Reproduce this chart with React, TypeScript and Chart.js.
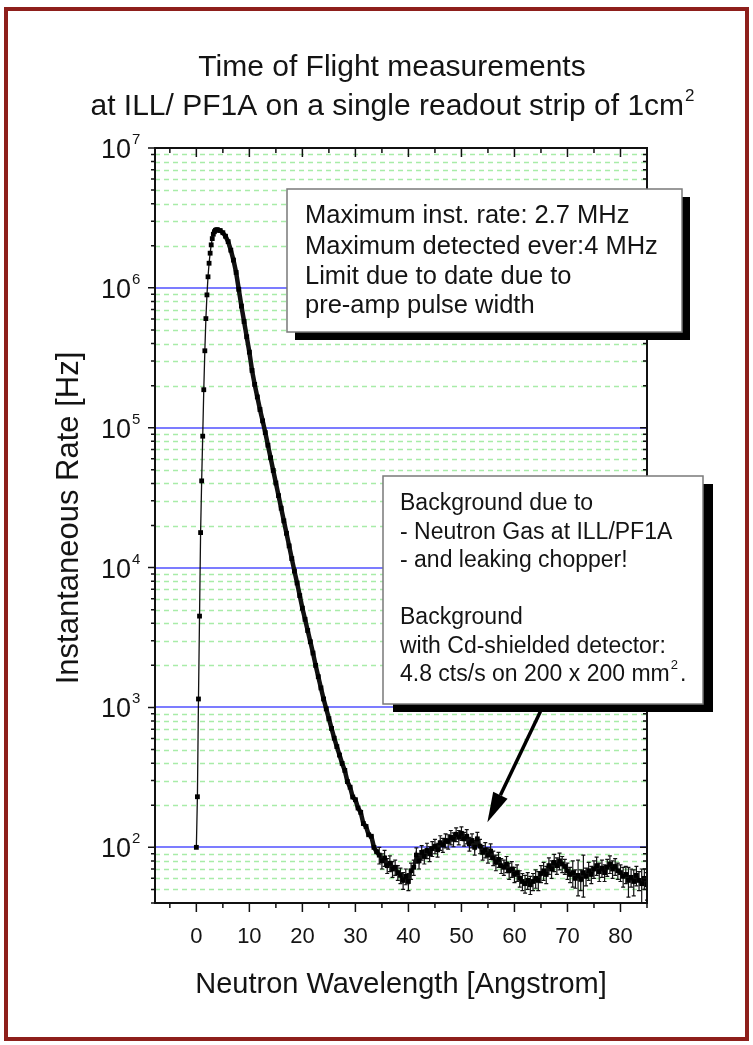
import { useEffect, useRef } from 'react';
import { Chart, registerables } from 'chart.js';

Chart.register(...registerables);

// ---------- data ----------
const riseWavelength = [0, 0.2, 0.4, 0.6, 0.8, 1.0, 1.2, 1.4, 1.6, 1.8, 2.0, 2.2, 2.4, 2.6, 2.8, 3.0, 3.2, 3.4, 3.6, 3.8];
const riseRate = [100, 230, 1150, 4500, 17800, 41700, 87000, 187000, 355000, 603000, 891000, 1200000, 1500000, 1770000, 2030000, 2250000, 2420000, 2520000, 2580000, 2600000];

const decayWavelength = [
  4.0, 4.5, 5.0, 5.5, 6.0, 6.5, 7.0, 7.5, 8.0, 8.5,
  9.0, 9.5, 10.0, 10.5, 11.0, 11.5, 12.0, 12.5, 13.0, 13.5,
  14.0, 14.5, 15.0, 15.5, 16.0, 16.5, 17.0, 17.5, 18.0, 18.5,
  19.0, 19.5, 20.0, 20.5, 21.0, 21.5, 22.0, 22.5, 23.0, 23.5,
  24.0, 24.5, 25.0, 25.5, 26.0, 26.5, 27.0, 27.5, 28.0, 28.5,
  29.0, 29.5, 30.0, 30.5, 31.0, 31.5, 32.0, 32.5, 33.0, 33.5,
  34.0,
];
const decayRate = [
  2600000, 2570000, 2480000, 2340000, 2140000, 1860000, 1580000, 1290000, 977000, 741000,
  575000, 447000, 347000, 257000, 204000, 166000, 135000, 112000, 92300, 75000,
  61000, 49500, 40300, 32700, 26600, 21600, 17600, 14300, 11600, 9440,
  7760, 6310, 5130, 4270, 3550, 2950, 2450, 2000, 1660, 1380,
  1150, 977, 832, 708, 603, 525, 457, 398, 355, 295,
  269, 229, 219, 191, 178, 148, 141, 123, 120, 100,
  93,
];

const tailWavelength = [
  34.5, 35.0, 35.5, 36.0, 36.5, 37.0, 37.5, 38.0, 38.5, 39.0,
  39.5, 40.0, 40.5, 41.0, 41.5, 42.0, 42.5, 43.0, 43.5, 44.0,
  44.5, 45.0, 45.5, 46.0, 46.5, 47.0, 47.5, 48.0, 48.5, 49.0,
  49.5, 50.0, 50.5, 51.0, 51.5, 52.0, 52.5, 53.0, 53.5, 54.0,
  54.5, 55.0, 55.5, 56.0, 56.5, 57.0, 57.5, 58.0, 58.5, 59.0,
  59.5, 60.0, 60.5, 61.0, 61.5, 62.0, 62.5, 63.0, 63.5, 64.0,
  64.5, 65.0, 65.5, 66.0, 66.5, 67.0, 67.5, 68.0, 68.5, 69.0,
  69.5, 70.0, 70.5, 71.0, 71.5, 72.0, 72.5, 73.0, 73.5, 74.0,
  74.5, 75.0, 75.5, 76.0, 76.5, 77.0, 77.5, 78.0, 78.5, 79.0,
  79.5, 80.0, 80.5, 81.0, 81.5, 82.0, 82.5, 83.0, 83.5, 84.0,
  84.5, 85.0,
];
const tailRate = [
  88, 80, 84, 74, 77, 70, 72, 66, 63, 58,
  62, 57, 68, 72, 88, 80, 92, 86, 95, 90,
  98, 102, 96, 108, 104, 112, 110, 118, 114, 124,
  118, 126, 115, 120, 106, 112, 100, 115, 102, 92,
  96, 88, 94, 84, 78, 82, 74, 72, 76, 68,
  70, 64, 66, 60, 57, 55, 58, 54, 57, 60,
  58, 65, 68, 64, 74, 70, 78, 74, 80, 76,
  73, 68, 64, 66, 60, 63, 59, 66, 62, 68,
  64, 70, 74, 67, 71, 66, 72, 76, 70, 73,
  68, 66, 62, 64, 58, 61, 57, 63, 58, 55,
  60, 54,
];
const tailError = [
  12, 10, 11, 9, 10, 9, 9, 8, 8, 8,
  8, 8, 9, 9, 11, 10, 11, 10, 12, 11,
  12, 12, 11, 13, 12, 13, 13, 14, 13, 14,
  14, 14, 13, 14, 12, 13, 12, 13, 12, 11,
  12, 11, 12, 10, 10, 10, 9, 9, 10, 9,
  9, 8, 9, 8, 8, 8, 8, 8, 8, 9,
  9, 9, 10, 9, 10, 10, 11, 10, 11, 10,
  9, 9, 8, 14, 9, 18, 10, 22, 9, 10,
  9, 10, 11, 10, 10, 9, 10, 11, 10, 10,
  9, 9, 10, 9, 14, 9, 12, 10, 9, 15,
  10, 12,
];

const xTickValues = [0, 10, 20, 30, 40, 50, 60, 70, 80];
const xMinorTickValues = [-5, 5, 15, 25, 35, 45, 55, 65, 75, 85];
const yTickValues = [100, 1000, 10000, 100000, 1000000, 10000000];
const yTickExponents = ['2', '3', '4', '5', '6', '7'];

const titleLines = ['Time of Flight measurements', 'at ILL/ PF1A on a single readout strip of 1cm'];
const xTitle = 'Neutron Wavelength [Angstrom]';
const yTitle = 'Instantaneous Rate [Hz]';
const box1Lines = ['Maximum inst. rate: 2.7 MHz', 'Maximum detected ever:4 MHz', 'Limit due to date due to', 'pre-amp pulse width'];
const box2Lines = ['Background due to', '- Neutron Gas at ILL/PF1A', '- and leaking chopper!', '', 'Background', 'with Cd-shielded detector:', '4.8 cts/s on 200 x 200 mm'];
const arrowFrom = { x: 64.9, y: 935 };
const arrowTo = { x: 54.9, y: 151 };

const FONT = '"Liberation Sans", Arial, Helvetica, sans-serif';
const TEXT = '#141414';

function drawBox(ctx: CanvasRenderingContext2D, x: number, y: number, w: number, h: number, dx: number, dy: number) {
  ctx.fillStyle = '#000';
  ctx.fillRect(x + dx, y + dy, w, h);
  ctx.fillStyle = '#fff';
  ctx.fillRect(x, y, w, h);
  ctx.strokeStyle = '#7a7a7a';
  ctx.lineWidth = 1.5;
  ctx.strokeRect(x, y, w, h);
}

const decor = {
  id: 'decor',
  beforeDraw(chart: any) {
    const { ctx, width, height } = chart;
    ctx.save();
    ctx.fillStyle = '#fff';
    ctx.fillRect(0, 0, width, height);
    ctx.strokeStyle = '#8e1f1b';
    ctx.lineWidth = 4;
    ctx.strokeRect(6, 9, 741, 1030);
    ctx.restore();
  },
  beforeDatasetsDraw(chart: any) {
    const { ctx, chartArea: a, scales } = chart;
    const y = scales.y;
    const x = scales.x;
    ctx.save();
    ctx.beginPath();
    ctx.rect(a.left, a.top, a.right - a.left, a.bottom - a.top);
    ctx.clip();
    ctx.strokeStyle = '#a8eca8';
    ctx.lineWidth = 1.5;
    ctx.setLineDash([5, 4]);
    for (let e = 1; e < 7; e++) {
      for (let m = 2; m < 10; m++) {
        const v = m * Math.pow(10, e);
        if (v <= y.min || v >= y.max) continue;
        const py = Math.round(y.getPixelForValue(v)) + 0.5;
        ctx.beginPath();
        ctx.moveTo(a.left, py);
        ctx.lineTo(a.right, py);
        ctx.stroke();
      }
    }
    ctx.setLineDash([]);
    ctx.strokeStyle = '#7c7cff';
    ctx.lineWidth = 2;
    for (const v of yTickValues) {
      if (v >= y.max) continue;
      const py = Math.round(y.getPixelForValue(v));
      ctx.beginPath();
      ctx.moveTo(a.left, py);
      ctx.lineTo(a.right, py);
      ctx.stroke();
    }
    ctx.strokeStyle = '#111';
    ctx.lineWidth = 1.2;
    for (let i = 0; i < tailWavelength.length; i++) {
      const err = tailError[i] ?? 0;
      const px = x.getPixelForValue(tailWavelength[i]);
      const y1 = y.getPixelForValue(tailRate[i] + err);
      const y2 = y.getPixelForValue(Math.max(tailRate[i] - err, 1));
      ctx.beginPath();
      ctx.moveTo(px, y1);
      ctx.lineTo(px, y2);
      ctx.moveTo(px - 2, y1);
      ctx.lineTo(px + 2, y1);
      ctx.moveTo(px - 2, y2);
      ctx.lineTo(px + 2, y2);
      ctx.stroke();
    }
    ctx.restore();
  },
  afterDatasetsDraw(chart: any) {
    const { ctx, chartArea: a, scales } = chart;
    const y = scales.y;
    const x = scales.x;
    ctx.save();
    ctx.strokeStyle = '#111';
    ctx.lineWidth = 2;
    ctx.strokeRect(a.left, a.top, a.right - a.left, a.bottom - a.top);
    ctx.lineWidth = 1.5;
    for (let e = 1; e <= 7; e++) {
      for (let m = 1; m < 10; m++) {
        const v = m * Math.pow(10, e);
        if (v < y.min || v > y.max) continue;
        const py = y.getPixelForValue(v);
        const len = m === 1 ? 7 : 4;
        ctx.beginPath();
        ctx.moveTo(a.left - len, py);
        ctx.lineTo(a.left, py);
        ctx.moveTo(a.right, py);
        ctx.lineTo(a.right - len, py);
        ctx.stroke();
      }
    }
    for (const v of xTickValues) {
      const px = x.getPixelForValue(v);
      ctx.beginPath();
      ctx.moveTo(px, a.bottom);
      ctx.lineTo(px, a.bottom + 9);
      ctx.moveTo(px, a.top);
      ctx.lineTo(px, a.top + 9);
      ctx.stroke();
    }
    for (const v of xMinorTickValues) {
      const px = x.getPixelForValue(v);
      ctx.beginPath();
      ctx.moveTo(px, a.bottom);
      ctx.lineTo(px, a.bottom + 5);
      ctx.moveTo(px, a.top);
      ctx.lineTo(px, a.top + 5);
      ctx.stroke();
    }
    ctx.fillStyle = TEXT;
    ctx.font = `22px ${FONT}`;
    ctx.textAlign = 'center';
    ctx.textBaseline = 'alphabetic';
    xTickValues.forEach((v) => {
      ctx.fillText(String(v), x.getPixelForValue(v), 943);
    });
    yTickValues.forEach((v, i) => {
      const py = y.getPixelForValue(v);
      ctx.font = `27px ${FONT}`;
      ctx.textAlign = 'right';
      ctx.fillText('10', 131, py + 10);
      ctx.font = `15px ${FONT}`;
      ctx.textAlign = 'left';
      ctx.fillText(yTickExponents[i], 132, py - 4);
    });
    ctx.font = `29px ${FONT}`;
    ctx.textAlign = 'center';
    ctx.fillText(xTitle, (a.left + a.right) / 2, 993);
    ctx.save();
    ctx.translate(78, 518);
    ctx.rotate(-Math.PI / 2);
    ctx.font = `31px ${FONT}`;
    ctx.fillText(yTitle, 0, 0);
    ctx.restore();
    ctx.font = `30px ${FONT}`;
    ctx.textAlign = 'center';
    ctx.fillText(titleLines[0], 392, 76);
    const w2 = ctx.measureText(titleLines[1]).width;
    ctx.font = `17px ${FONT}`;
    const ws = ctx.measureText('2').width;
    const sx = 392 - (w2 + ws) / 2;
    ctx.textAlign = 'left';
    ctx.font = `30px ${FONT}`;
    ctx.fillText(titleLines[1], sx, 115);
    ctx.font = `17px ${FONT}`;
    ctx.fillText('2', sx + w2 + 1, 101);

    drawBox(ctx, 287, 189, 395, 143, 8, 8);
    ctx.fillStyle = TEXT;
    ctx.font = `25.5px ${FONT}`;
    ctx.textAlign = 'left';
    const b1 = [223, 254, 284, 313];
    box1Lines.forEach((t, i) => ctx.fillText(t, 305, b1[i]));

    drawBox(ctx, 383, 476, 320, 228, 10, 8);
    ctx.fillStyle = TEXT;
    ctx.font = `23px ${FONT}`;
    const b2 = [510, 538.5, 567, 595.5, 624, 652.5, 681];
    box2Lines.forEach((t, i) => {
      if (t) ctx.fillText(t, 400, b2[i]);
    });
    const lw = ctx.measureText(box2Lines[6]).width;
    ctx.font = `13px ${FONT}`;
    ctx.fillText('2', 400 + lw + 1, 669);
    const sw = ctx.measureText('2').width;
    ctx.font = `23px ${FONT}`;
    ctx.fillText('.', 400 + lw + sw + 3, 681);

    const x0 = x.getPixelForValue(arrowFrom.x);
    const y0 = y.getPixelForValue(arrowFrom.y);
    const x1 = x.getPixelForValue(arrowTo.x);
    const y1 = y.getPixelForValue(arrowTo.y);
    const ang = Math.atan2(y1 - y0, x1 - x0);
    const headLen = 30;
    const headW = 8;
    const bx = x1 - headLen * Math.cos(ang);
    const by = y1 - headLen * Math.sin(ang);
    ctx.strokeStyle = '#000';
    ctx.lineWidth = 3.5;
    ctx.beginPath();
    ctx.moveTo(x0, y0);
    ctx.lineTo(bx, by);
    ctx.stroke();
    ctx.fillStyle = '#000';
    ctx.beginPath();
    ctx.moveTo(x1, y1);
    ctx.lineTo(bx + headW * Math.sin(ang), by - headW * Math.cos(ang));
    ctx.lineTo(bx - headW * Math.sin(ang), by + headW * Math.cos(ang));
    ctx.closePath();
    ctx.fill();
    ctx.restore();
  },
};

export default function App() {
  const ref = useRef<HTMLCanvasElement>(null);
  useEffect(() => {
    const points = [
      ...riseWavelength.map((w, i) => ({ x: w, y: riseRate[i] })),
      ...decayWavelength.map((w, i) => ({ x: w, y: decayRate[i] })),
      ...tailWavelength.map((w, i) => ({ x: w, y: tailRate[i] })),
    ];
    const chart = new Chart(ref.current as HTMLCanvasElement, {
      type: 'scatter',
      data: {
        datasets: [
          {
            data: points,
            showLine: true,
            borderColor: '#111',
            borderWidth: 1.2,
            segment: {
              borderWidth: (c: any) => (c.p0.parsed.x >= 3.5 && c.p0.parsed.x < 34.2 ? 4.5 : c.p0.parsed.x >= 34.2 ? 3 : 1.3),
            },
            pointStyle: 'rect',
            pointRadius: 3.4,
            pointBorderWidth: 0,
            pointBackgroundColor: '#000',
          },
        ],
      },
      options: {
        responsive: false,
        animation: false,
        devicePixelRatio: 1,
        layout: { padding: { left: 155, right: 106, top: 148, bottom: 142 } },
        plugins: { legend: { display: false }, tooltip: { enabled: false }, title: { display: false } },
        scales: {
          x: { type: 'linear', min: -7.8, max: 85, display: false },
          y: { type: 'logarithmic', min: 40, max: 10000000, display: false },
        },
      },
      plugins: [decor],
    } as any);
    return () => chart.destroy();
  }, []);
  return (
    <div style={{ position: 'absolute', left: 0, top: 0, width: 753, height: 1045, background: '#fff' }}>
      <canvas ref={ref} width={753} height={1045} style={{ display: 'block', width: 753, height: 1045 }} />
    </div>
  );
}
